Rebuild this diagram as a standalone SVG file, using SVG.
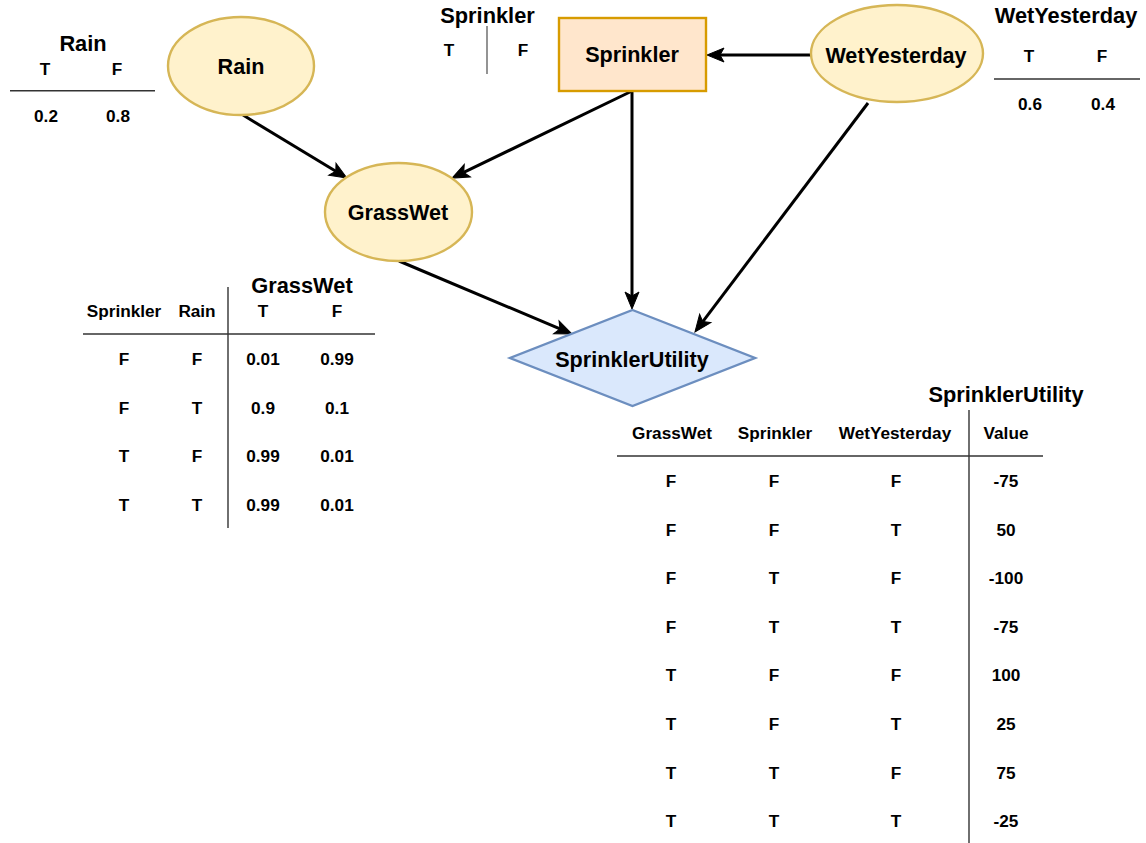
<svg xmlns="http://www.w3.org/2000/svg" width="1146" height="843" viewBox="0 0 1146 843">
  <style>
    text { font-family: "Liberation Sans", Arial, Helvetica, sans-serif; font-weight: bold; fill: #000; text-anchor: middle; }
    .lbl { font-size: 21.6px; }
    .cell { font-size: 17.2px; }
    .title { font-size: 21.8px; }
    .chance { fill: #fff2cc; stroke: #d6b656; stroke-width: 2.4; }
    .decision { fill: #ffe6cc; stroke: #d79b00; stroke-width: 2.4; }
    .utility { fill: #dae8fc; stroke: #6c8ebf; stroke-width: 2.4; }
    .edge { fill: none; stroke: #000; stroke-width: 3; }
    .rule { stroke: #333; stroke-width: 1.4; fill: none; }
  </style>
  <defs>
    <marker id="arrow" markerUnits="userSpaceOnUse" markerWidth="18" markerHeight="15" refX="4" refY="7" orient="auto" overflow="visible">
      <path d="M0,0 L17,7 L0,14 L4,7 Z" fill="#000" stroke="#000" stroke-width="1" stroke-linejoin="miter"/>
    </marker>
  </defs>

  <!-- influence arcs -->
  <g id="connectors">
    <line class="edge" x1="243" y1="115" x2="335.8" y2="171.3" marker-end="url(#arrow)"/>
    <line class="edge" x1="632" y1="91" x2="463.7" y2="172.4" marker-end="url(#arrow)"/>
    <line class="edge" x1="632" y1="91" x2="632" y2="296" marker-end="url(#arrow)"/>
    <line class="edge" x1="811" y1="55" x2="720" y2="55" marker-end="url(#arrow)"/>
    <line class="edge" x1="868" y1="103" x2="702.8" y2="321.6" marker-end="url(#arrow)"/>
    <line class="edge" x1="399" y1="261" x2="560" y2="328.9" marker-end="url(#arrow)"/>
  </g>

  <!-- nodes -->
  <g id="node-rain">
    <ellipse class="chance" cx="241" cy="66" rx="73" ry="49"/>
    <text class="lbl" x="241" y="74">Rain</text>
  </g>
  <g id="node-sprinkler">
    <rect class="decision" x="559" y="18" width="147" height="73"/>
    <text class="lbl" x="632" y="62">Sprinkler</text>
  </g>
  <g id="node-wetyesterday">
    <ellipse class="chance" cx="897" cy="53.5" rx="86" ry="48.5"/>
    <text class="lbl" x="896" y="62.5">WetYesterday</text>
  </g>
  <g id="node-grasswet">
    <ellipse class="chance" cx="398.5" cy="212" rx="73.5" ry="49"/>
    <text class="lbl" x="398" y="219.5">GrassWet</text>
  </g>
  <g id="node-sprinklerutility">
    <polygon class="utility" points="632.5,310 755,358 632.5,406 510,358"/>
    <text class="lbl" x="632" y="366.5">SprinklerUtility</text>
  </g>

  <!-- probability / utility tables -->
  <g id="table-rain">
    <text class="title" x="83" y="50.5">Rain</text>
    <text class="cell" x="45" y="75">T</text>
    <text class="cell" x="117" y="75">F</text>
    <line class="rule" x1="10" y1="90.7" x2="155" y2="90.7"/>
    <text class="cell" x="46" y="121.7">0.2</text>
    <text class="cell" x="118" y="121.7">0.8</text>
  </g>

  <g id="table-sprinkler">
    <text class="title" x="487.5" y="23">Sprinkler</text>
    <text class="cell" x="449" y="56">T</text>
    <text class="cell" x="523" y="56">F</text>
    <line class="rule" x1="487" y1="26" x2="487" y2="74" style="stroke:#666"/>
  </g>

  <g id="table-wetyesterday">
    <text class="title" x="1066" y="23">WetYesterday</text>
    <text class="cell" x="1029" y="62">T</text>
    <text class="cell" x="1102" y="62">F</text>
    <line class="rule" x1="994" y1="79" x2="1140" y2="79"/>
    <text class="cell" x="1030" y="110">0.6</text>
    <text class="cell" x="1103" y="110">0.4</text>
  </g>

  <g id="table-grasswet">
    <text class="title" x="302" y="293">GrassWet</text>
    <text class="cell" x="124" y="316.7">Sprinkler</text>
    <text class="cell" x="197" y="316.7">Rain</text>
    <text class="cell" x="263" y="316.7">T</text>
    <text class="cell" x="337" y="316.7">F</text>
    <line class="rule" x1="83" y1="334" x2="375" y2="334"/>
    <line class="rule" x1="228" y1="287" x2="228" y2="528"/>
    <g>
      <text class="cell" x="124" y="365">F</text>
      <text class="cell" x="197" y="365">F</text>
      <text class="cell" x="263" y="365">0.01</text>
      <text class="cell" x="337" y="365">0.99</text>
      <text class="cell" x="124" y="413.5">F</text>
      <text class="cell" x="197" y="413.5">T</text>
      <text class="cell" x="263" y="413.5">0.9</text>
      <text class="cell" x="337" y="413.5">0.1</text>
      <text class="cell" x="124" y="462">T</text>
      <text class="cell" x="197" y="462">F</text>
      <text class="cell" x="263" y="462">0.99</text>
      <text class="cell" x="337" y="462">0.01</text>
      <text class="cell" x="124" y="510.5">T</text>
      <text class="cell" x="197" y="510.5">T</text>
      <text class="cell" x="263" y="510.5">0.99</text>
      <text class="cell" x="337" y="510.5">0.01</text>
    </g>
  </g>

  <g id="table-sprinklerutility">
    <text class="title" x="1006" y="402">SprinklerUtility</text>
    <text class="cell" x="672" y="439.3">GrassWet</text>
    <text class="cell" x="775" y="439.3">Sprinkler</text>
    <text class="cell" x="895" y="439.3">WetYesterday</text>
    <text class="cell" x="1006" y="439.3">Value</text>
    <line class="rule" x1="617" y1="456" x2="1043" y2="456"/>
    <line class="rule" x1="969" y1="410" x2="969" y2="843"/>
    <g>
      <text class="cell" x="671" y="487">F</text><text class="cell" x="774" y="487">F</text><text class="cell" x="896" y="487">F</text><text class="cell" x="1006" y="487">-75</text>
      <text class="cell" x="671" y="535.6">F</text><text class="cell" x="774" y="535.6">F</text><text class="cell" x="896" y="535.6">T</text><text class="cell" x="1006" y="535.6">50</text>
      <text class="cell" x="671" y="584.2">F</text><text class="cell" x="774" y="584.2">T</text><text class="cell" x="896" y="584.2">F</text><text class="cell" x="1006" y="584.2">-100</text>
      <text class="cell" x="671" y="632.8">F</text><text class="cell" x="774" y="632.8">T</text><text class="cell" x="896" y="632.8">T</text><text class="cell" x="1006" y="632.8">-75</text>
      <text class="cell" x="671" y="681.4">T</text><text class="cell" x="774" y="681.4">F</text><text class="cell" x="896" y="681.4">F</text><text class="cell" x="1006" y="681.4">100</text>
      <text class="cell" x="671" y="730">T</text><text class="cell" x="774" y="730">F</text><text class="cell" x="896" y="730">T</text><text class="cell" x="1006" y="730">25</text>
      <text class="cell" x="671" y="778.6">T</text><text class="cell" x="774" y="778.6">T</text><text class="cell" x="896" y="778.6">F</text><text class="cell" x="1006" y="778.6">75</text>
      <text class="cell" x="671" y="827.2">T</text><text class="cell" x="774" y="827.2">T</text><text class="cell" x="896" y="827.2">T</text><text class="cell" x="1006" y="827.2">-25</text>
    </g>
  </g>
</svg>
